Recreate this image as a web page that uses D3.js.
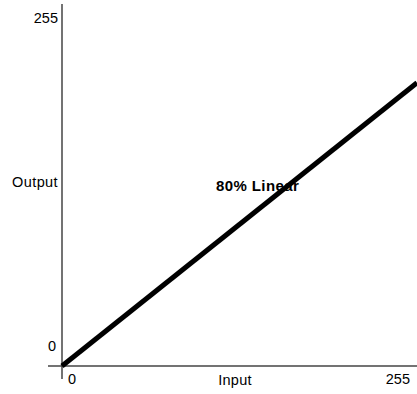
<!DOCTYPE html>
<html><head><meta charset="utf-8">
<script src="https://cdn.jsdelivr.net/npm/d3@7"></script>
<style>body{margin:0;background:#fff}svg{display:block}text{font-family:"Liberation Sans",Arial,sans-serif;fill:#000}</style>
</head><body><svg id="c" width="417" height="394"></svg>
<script>
const inputs = [0, 255];
const outputs = [0, 204];
const xTicks = [0, 255];
const yTicks = [0, 255];
const seriesLabel = "80% Linear";
const xTitle = "Input", yTitle = "Output";

const svg = d3.select("#c");
const x = d3.scaleLinear().domain([0, 255]).range([62, 417]);
const y = d3.scaleLinear().domain([0, 255]).range([366, 12]);

// axes
svg.append("line").attr("x1", 48).attr("x2", 417).attr("y1", 366).attr("y2", 366).attr("stroke", "#444").attr("stroke-width", 1.5);
svg.append("line").attr("x1", 62).attr("x2", 62).attr("y1", 4).attr("y2", 379).attr("stroke", "#444").attr("stroke-width", 1.5);

const fs = 14.5;
const t = (xx, yy, s, anchor) => svg.append("text").attr("x", xx).attr("y", yy)
  .attr("text-anchor", anchor || "start").attr("font-size", fs).text(s);
t(58, 23, yTicks[1], "end");
t(56, 351, yTicks[0], "end");
t(58, 187, yTitle, "end").attr("letter-spacing", 0.4);
t(68, 384, xTicks[0]);
t(410, 384, xTicks[1], "end");
t(235, 385, xTitle, "middle").attr("letter-spacing", 0.3);

const data = inputs.map((v, i) => [v, outputs[i]]);
svg.append("path").datum(data)
  .attr("d", d3.line().x(d => x(d[0])).y(d => y(d[1])))
  .attr("fill", "none").attr("stroke", "#000").attr("stroke-width", 5);

svg.append("text").attr("x", 216).attr("y", 191).attr("font-size", 15).attr("font-weight", "bold")
  .attr("letter-spacing", 0.4).text(seriesLabel);
</script></body></html>
